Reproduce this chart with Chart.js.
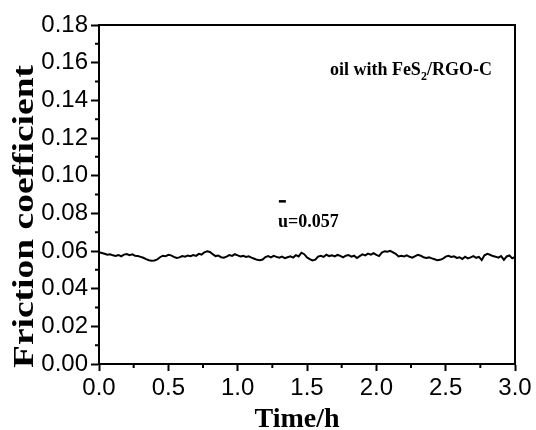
<!DOCTYPE html>
<html>
<head>
<meta charset="utf-8">
<title>Friction coefficient</title>
<script src="https://cdn.jsdelivr.net/npm/chart.js@4.4.1/dist/chart.umd.min.js"></script>
<style>
  html, body { margin: 0; padding: 0; background: #fff; }
</style>
</head>
<body>
<canvas id="friction" width="536" height="430"></canvas>
<script>
// sliding time in hours, one reading every 0.02 h
const timeH = [
  0.00, 0.02, 0.04, 0.06, 0.08, 0.10, 0.12, 0.14, 0.16, 0.18,
  0.20, 0.22, 0.24, 0.26, 0.28, 0.30, 0.32, 0.34, 0.36, 0.38,
  0.40, 0.42, 0.44, 0.46, 0.48, 0.50, 0.52, 0.54, 0.56, 0.58,
  0.60, 0.62, 0.64, 0.66, 0.68, 0.70, 0.72, 0.74, 0.76, 0.78,
  0.80, 0.82, 0.84, 0.86, 0.88, 0.90, 0.92, 0.94, 0.96, 0.98,
  1.00, 1.02, 1.04, 1.06, 1.08, 1.10, 1.12, 1.14, 1.16, 1.18,
  1.20, 1.22, 1.24, 1.26, 1.28, 1.30, 1.32, 1.34, 1.36, 1.38,
  1.40, 1.42, 1.44, 1.46, 1.48, 1.50, 1.52, 1.54, 1.56, 1.58,
  1.60, 1.62, 1.64, 1.66, 1.68, 1.70, 1.72, 1.74, 1.76, 1.78,
  1.80, 1.82, 1.84, 1.86, 1.88, 1.90, 1.92, 1.94, 1.96, 1.98,
  2.00, 2.02, 2.04, 2.06, 2.08, 2.10, 2.12, 2.14, 2.16, 2.18,
  2.20, 2.22, 2.24, 2.26, 2.28, 2.30, 2.32, 2.34, 2.36, 2.38,
  2.40, 2.42, 2.44, 2.46, 2.48, 2.50, 2.52, 2.54, 2.56, 2.58,
  2.60, 2.62, 2.64, 2.66, 2.68, 2.70, 2.72, 2.74, 2.76, 2.78,
  2.80, 2.82, 2.84, 2.86, 2.88, 2.90, 2.92, 2.94, 2.96, 2.98,
  3.00
];

// friction coefficient, oil with FeS2/RGO-C
const friction = [
  0.0593, 0.0589, 0.0585, 0.0580, 0.0583, 0.0577, 0.0574, 0.0579, 0.0572, 0.0581,
  0.0584, 0.0578, 0.0582, 0.0575, 0.0573, 0.0569, 0.0564, 0.0557, 0.0551, 0.0548,
  0.0550, 0.0555, 0.0567, 0.0575, 0.0572, 0.0580, 0.0577, 0.0569, 0.0563, 0.0566,
  0.0573, 0.0570, 0.0576, 0.0572, 0.0578, 0.0574, 0.0585, 0.0581, 0.0593, 0.0599,
  0.0595, 0.0583, 0.0573, 0.0576, 0.0567, 0.0564, 0.0570, 0.0578, 0.0574, 0.0583,
  0.0577, 0.0571, 0.0574, 0.0568, 0.0572, 0.0565, 0.0559, 0.0553, 0.0551, 0.0555,
  0.0568, 0.0573, 0.0566, 0.0574, 0.0569, 0.0564, 0.0570, 0.0562, 0.0567, 0.0572,
  0.0565, 0.0578, 0.0571, 0.0591, 0.0583, 0.0566, 0.0557, 0.0550, 0.0554, 0.0570,
  0.0575, 0.0569, 0.0580, 0.0573, 0.0577, 0.0571, 0.0579, 0.0574, 0.0566, 0.0575,
  0.0578, 0.0570, 0.0575, 0.0563, 0.0573, 0.0582, 0.0577, 0.0586, 0.0581, 0.0588,
  0.0579, 0.0573, 0.0592, 0.0599, 0.0596, 0.0601, 0.0593, 0.0585, 0.0571, 0.0575,
  0.0571, 0.0577, 0.0569, 0.0565, 0.0573, 0.0580, 0.0575, 0.0567, 0.0563, 0.0566,
  0.0561, 0.0556, 0.0551, 0.0553, 0.0559, 0.0570, 0.0574, 0.0568, 0.0572, 0.0563,
  0.0567, 0.0558, 0.0570, 0.0561, 0.0566, 0.0573, 0.0564, 0.0569, 0.0552, 0.0577,
  0.0585, 0.0580, 0.0573, 0.0570, 0.0565, 0.0573, 0.0553, 0.0571, 0.0576, 0.0561,
  0.0569
];

const minorX = [0.25, 0.75, 1.25, 1.75, 2.25, 2.75];
const minorY = [0.01, 0.03, 0.05, 0.07, 0.09, 0.11, 0.13, 0.15, 0.17];

const xTitle = 'Time/h';
const yTitle = 'Friction coefficient';
const sampleNote = ['oil with FeS', '2', '/RGO-C'];
const sampleNoteAt = [1.665, 0.1535];
const meanNote = 'u=0.057';
const meanNoteAt = [1.29, 0.0727];

const serif = '"Liberation Serif", "Times New Roman", serif';

// frame, minor ticks, axis titles and the two notes
const decorations = {
  id: 'decorations',
  afterDraw(chart) {
    const { ctx, chartArea: a, scales: { x, y } } = chart;
    ctx.save();
    ctx.strokeStyle = '#000';
    ctx.fillStyle = '#000';
    ctx.lineWidth = 2;
    ctx.strokeRect(a.left, a.top, a.right - a.left, a.bottom - a.top);

    ctx.beginPath();
    minorX.forEach(v => {
      const px = x.getPixelForValue(v);
      ctx.moveTo(px, a.bottom);
      ctx.lineTo(px, a.bottom + 4);
    });
    minorY.forEach(v => {
      const py = y.getPixelForValue(v);
      ctx.moveTo(a.left, py);
      ctx.lineTo(a.left - 4, py);
    });
    ctx.stroke();

    // x title
    ctx.font = 'bold 28px ' + serif;
    ctx.textAlign = 'center';
    ctx.textBaseline = 'alphabetic';
    ctx.fillText(xTitle, (a.left + a.right) / 2 - 10, a.bottom + 63);

    // y title, stretched along its length
    ctx.save();
    ctx.translate(33, a.bottom + 4);
    ctx.rotate(-Math.PI / 2);
    ctx.scale(1.25, 1);
    ctx.font = 'bold 30px ' + serif;
    ctx.textAlign = 'left';
    ctx.fillText(yTitle, 0, 0);
    ctx.restore();

    // sample note with subscript
    ctx.textAlign = 'left';
    let px = x.getPixelForValue(sampleNoteAt[0]);
    const py = y.getPixelForValue(sampleNoteAt[1]);
    ctx.font = 'bold 18px ' + serif;
    ctx.fillText(sampleNote[0], px, py);
    px += ctx.measureText(sampleNote[0]).width;
    ctx.font = 'bold 12px ' + serif;
    ctx.fillText(sampleNote[1], px, py + 5);
    px += ctx.measureText(sampleNote[1]).width;
    ctx.font = 'bold 18px ' + serif;
    ctx.fillText(sampleNote[2], px, py);

    // mean value with a bar over the u
    const mx = x.getPixelForValue(meanNoteAt[0]);
    const my = y.getPixelForValue(meanNoteAt[1]);
    ctx.font = 'bold 18px ' + serif;
    ctx.fillText(meanNote, mx, my);
    ctx.fillRect(mx + 1, my - 27, 7, 2.5);
    ctx.restore();
  }
};

new Chart(document.getElementById('friction'), {
  type: 'line',
  data: {
    datasets: [{
      data: timeH.map((t, i) => ({ x: t, y: friction[i] })),
      borderColor: '#000',
      borderWidth: 2,
      pointRadius: 0,
      tension: 0,
      fill: false
    }]
  },
  options: {
    responsive: false,
    animation: false,
    devicePixelRatio: 1,
    layout: { padding: { top: 25, right: 21, bottom: 0, left: 0 } },
    plugins: { legend: { display: false }, tooltip: { enabled: false } },
    scales: {
      x: {
        type: 'linear',
        min: 0,
        max: 3,
        ticks: {
          stepSize: 0.5,
          color: '#000',
          padding: 3,
          maxRotation: 0,
          font: { family: '"Liberation Sans", Arial, sans-serif', size: 24 },
          callback: v => Number(v).toFixed(1)
        },
        grid: { drawOnChartArea: false, tickLength: 7, tickWidth: 2, tickColor: '#000' },
        border: { color: '#000', width: 2 },
        afterFit: s => { s.height = 66; }
      },
      y: {
        min: 0,
        max: 0.18,
        ticks: {
          stepSize: 0.02,
          color: '#000',
          padding: 3,
          font: { family: '"Liberation Sans", Arial, sans-serif', size: 24 },
          callback: v => Number(v).toFixed(2)
        },
        grid: { drawOnChartArea: false, tickLength: 8, tickWidth: 2, tickColor: '#000' },
        border: { color: '#000', width: 2 },
        afterFit: s => { s.width = 99; }
      }
    }
  },
  plugins: [decorations]
});
</script>
</body>
</html>
